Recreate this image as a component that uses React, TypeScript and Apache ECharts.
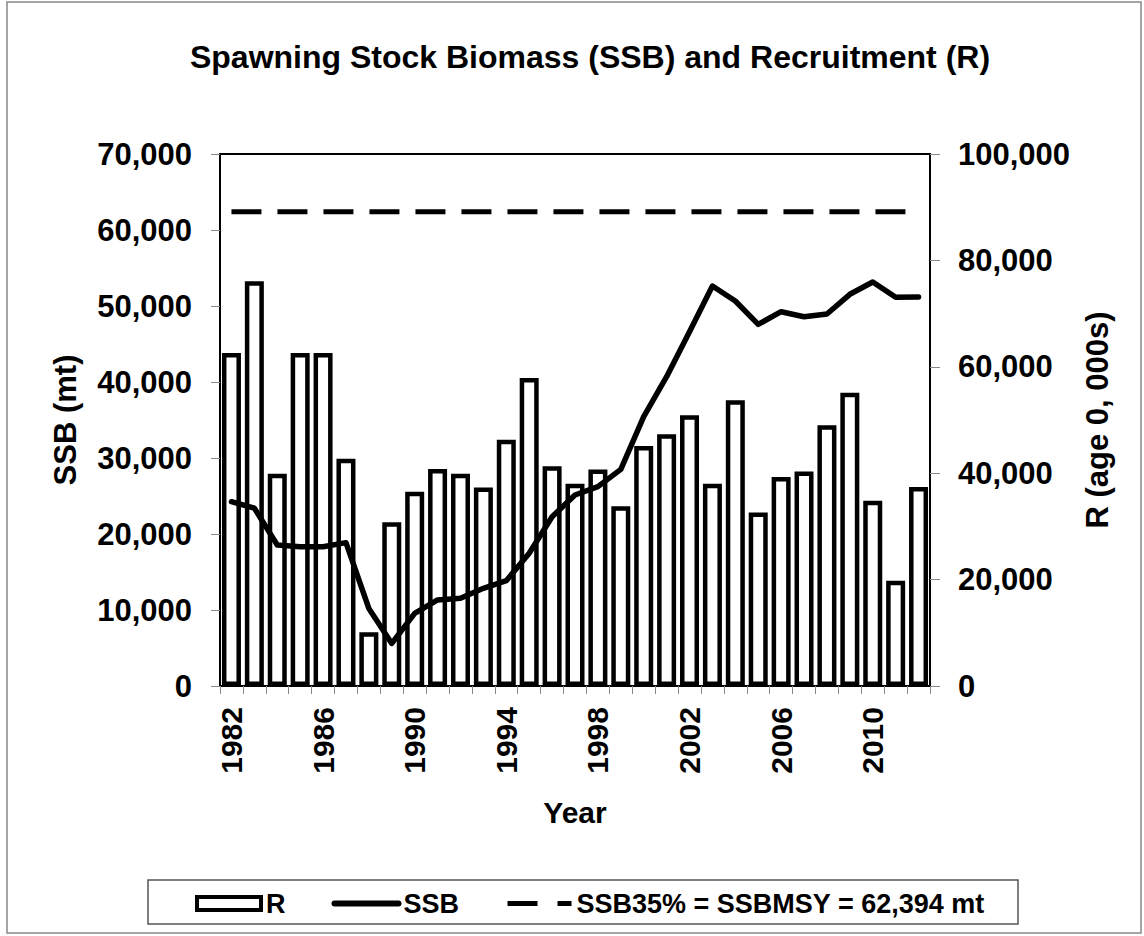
import React, { useEffect, useRef } from "react";
import * as echarts from "echarts";

const years = [
  "1982", "1983", "1984", "1985", "1986", "1987", "1988", "1989", "1990", "1991",
  "1992", "1993", "1994", "1995", "1996", "1997", "1998", "1999", "2000", "2001",
  "2002", "2003", "2004", "2005", "2006", "2007", "2008", "2009", "2010", "2011", "2012",
];

const recruitment = [
  62600, 76100, 39900, 62600, 62600, 42700, 10100, 30800, 36500, 40800,
  39900, 37300, 46300, 57900, 41300, 38000, 40700, 33800, 45100, 47300,
  50900, 38000, 53700, 32600, 39300, 40300, 49000, 55100, 34800, 19800, 37400,
];

const ssb = [
  24250, 23400, 18550, 18330, 18330, 18860, 10200, 5600, 9560, 11320,
  11540, 12850, 13860, 17460, 22280, 25130, 26230, 28510, 35440, 40700,
  46620, 52630, 50660, 47590, 49250, 48590, 48950, 51540, 53160, 51140, 51180,
];

const ssbMsyValue = 62394;
const ssbMsy = years.map(() => ssbMsyValue);

const leftTicks = { min: 0, max: 70000, interval: 10000 };
const rightTicks = { min: 0, max: 100000, interval: 20000 };

const FONT = "'Liberation Sans', Arial, Helvetica, sans-serif";
const fmt = (v: number) => v.toLocaleString("en-US");

export default function App() {
  const ref = useRef<HTMLDivElement>(null);

  useEffect(() => {
    if (!ref.current) return;
    const chart = echarts.init(ref.current, null, { renderer: "svg" });
    const axisLabelStyle = {
      fontFamily: FONT,
      fontWeight: "bold" as const,
      fontSize: 31,
      color: "#000",
    };
    chart.setOption({
      animation: false,
      backgroundColor: "#fff",
      title: {
        text: "Spawning Stock Biomass (SSB) and Recruitment (R)",
        left: 585,
        top: 36,
        textAlign: "center",
        textStyle: { fontFamily: FONT, fontWeight: "bold", fontSize: 32, color: "#000" },
      },
      grid: {
        left: 220,
        right: 214,
        top: 154,
        bottom: 250,
        show: true,
        borderColor: "#000",
        borderWidth: 2,
        backgroundColor: "transparent",
      },
      legend: {
        left: 190,
        top: 885,
        itemWidth: 64,
        itemHeight: 13,
        itemGap: 46,
        textStyle: { fontFamily: FONT, fontWeight: "bold", fontSize: 27, color: "#000" },
        data: [
          {
            name: "R",
            icon: "rect",
            itemStyle: { color: "#fff", borderColor: "#000", borderWidth: 4 },
          },
          {
            name: "SSB",
            itemStyle: { opacity: 0, color: "transparent", borderWidth: 0 },
            lineStyle: { width: 6, type: "solid", color: "#000", cap: "round" },
          },
          {
            name: "SSB35% = SSBMSY = 62,394 mt",
            itemStyle: { opacity: 0, color: "transparent", borderWidth: 0 },
            lineStyle: { width: 5, type: [30, 20], color: "#000" },
          },
        ],
      },
      xAxis: {
        type: "category",
        data: years,
        boundaryGap: true,
        axisLine: { show: true, lineStyle: { color: "#000", width: 2 } },
        axisTick: { show: true, interval: 0, length: 8, lineStyle: { color: "#888", width: 1 } },
        axisLabel: { ...axisLabelStyle, fontSize: 30, interval: 3, rotate: 90, margin: 21 },
        splitLine: { show: false },
      },
      yAxis: [
        {
          type: "value",
          ...leftTicks,
          position: "left",
          axisLine: { show: true, lineStyle: { color: "#000", width: 2 } },
          axisTick: { show: true, length: 9, lineStyle: { color: "#888", width: 1 } },
          axisLabel: { ...axisLabelStyle, margin: 28, formatter: (v: number) => fmt(v) },
          splitLine: { show: false },
        },
        {
          type: "value",
          ...rightTicks,
          position: "right",
          axisLine: { show: true, lineStyle: { color: "#000", width: 2 } },
          axisTick: { show: true, length: 10, lineStyle: { color: "#888", width: 1 } },
          axisLabel: { ...axisLabelStyle, margin: 28, formatter: (v: number) => fmt(v) },
          splitLine: { show: false },
        },
      ],
      series: [
        {
          name: "R",
          type: "bar",
          yAxisIndex: 1,
          data: recruitment,
          barWidth: 19,
          itemStyle: { color: "#fff", borderColor: "#000", borderWidth: 4.5 },
          z: 2,
        },
        {
          name: "SSB",
          type: "line",
          yAxisIndex: 0,
          data: ssb,
          symbol: "none",
          showSymbol: false,
          lineStyle: { color: "#000", width: 5.5, cap: "round", join: "round" },
          itemStyle: { color: "#000" },
          z: 4,
        },
        {
          name: "SSB35% = SSBMSY = 62,394 mt",
          type: "line",
          yAxisIndex: 0,
          data: ssbMsy,
          symbol: "none",
          showSymbol: false,
          lineStyle: { color: "#000", width: 5, type: [30, 16] },
          itemStyle: { color: "#000" },
          z: 4,
        },
      ],
      graphic: [
        {
          type: "rect",
          shape: { x: 7, y: 2, width: 1134, height: 931 },
          style: { fill: "none", stroke: "#888", lineWidth: 1.5 },
          silent: true,
        },
        {
          type: "rect",
          shape: { x: 148, y: 880, width: 870, height: 44 },
          style: { fill: "none", stroke: "#555", lineWidth: 1.5 },
          silent: true,
        },
        {
          type: "text",
          x: 65,
          y: 420,
          rotation: Math.PI / 2,
          style: {
            text: "SSB (mt)",
            fontFamily: FONT,
            fontWeight: "bold",
            fontSize: 31,
            fill: "#000",
            align: "center",
            verticalAlign: "middle",
          },
        },
        {
          type: "text",
          x: 1097,
          y: 420,
          rotation: Math.PI / 2,
          style: {
            text: "R (age 0, 000s)",
            fontFamily: FONT,
            fontWeight: "bold",
            fontSize: 31,
            fill: "#000",
            align: "center",
            verticalAlign: "middle",
          },
        },
        {
          type: "text",
          x: 575,
          y: 812,
          style: {
            text: "Year",
            fontFamily: FONT,
            fontWeight: "bold",
            fontSize: 30,
            fill: "#000",
            align: "center",
            verticalAlign: "middle",
          },
        },
      ],
    });
    return () => chart.dispose();
  }, []);

  return (
    <div
      ref={ref}
      style={{ position: "absolute", left: 0, top: 0, width: 1144, height: 936, background: "#fff" }}
    />
  );
}
